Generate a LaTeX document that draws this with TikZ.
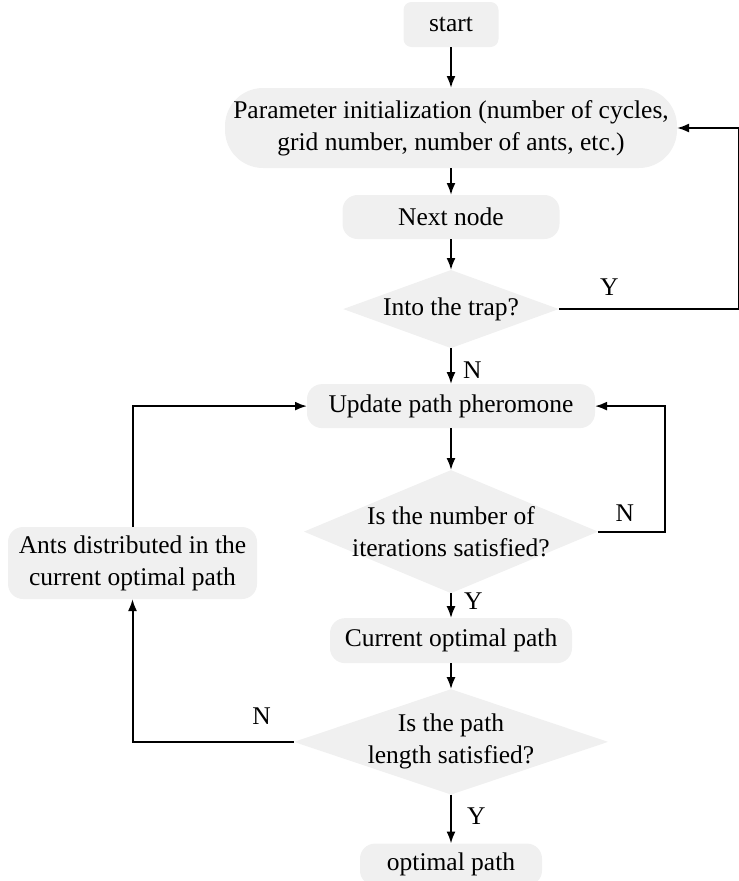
\documentclass[tikz,border=0pt]{standalone}
\usepackage{fontspec}
\setmainfont{Liberation Serif}
\usetikzlibrary{arrows.meta,positioning,shapes.geometric}
\definecolor{boxgray}{HTML}{F0F0F0}

\begin{document}
\begin{tikzpicture}[x=1pt,y=-1pt,>={Latex[length=12pt,width=9pt]},
  txt/.style={font=\fontsize{25.5}{32}\selectfont,align=center},
  boxnode/.style={txt,fill=boxgray,rounded corners=15pt,inner sep=4pt,outer sep=0pt},
  decision/.style={txt,diamond,fill=boxgray,outer sep=0pt},
  flow/.style={->,line width=2pt},
  lbl/.style={font=\fontsize{25.5}{32}\selectfont,inner sep=0pt}]
\useasboundingbox (0,0) rectangle (739,881);
\node[boxnode,rounded corners=8pt,minimum width=95pt,minimum height=45pt] (start) at (451,24.5) {start};
\node[boxnode,rounded corners=38pt,below=41pt of start,minimum width=452pt,minimum height=80pt] (param) {Parameter initialization (number of cycles,\\grid number, number of ants, etc.)};
\node[boxnode,below=27pt of param,minimum width=217pt,minimum height=44pt] (next) {Next node};
\node[decision,below=31pt of next,aspect=2.76,inner sep=2.1pt] (trap) {Into the trap?};
\node[boxnode,below=36pt of trap,minimum width=288pt,minimum height=44pt] (update) {Update path pheromone};
\node[decision,below=42pt of update,aspect=2.39,inner sep=-3.5pt] (iter) {Is the number of\\iterations satisfied?};
\node[boxnode,below=25pt of iter,minimum width=242pt,minimum height=45pt] (current) {Current optimal path};
\node[decision,below=26pt of current,aspect=2.98,inner sep=-2.1pt] (length) {Is the path\\length satisfied?};
\node[boxnode,below=49pt of length,minimum width=182pt,minimum height=42pt] (optimal) {optimal path};
\node[boxnode,minimum width=249pt,minimum height=72pt] (ants) at (132.5,563) {Ants distributed in the\\current optimal path};
\coordinate (rt) at ([xshift=62pt]param.east);
\coordinate (rl) at ([xshift=70pt]update.east);
\draw[flow] (start)--(param); \draw[flow] (param)--(next); \draw[flow] (next)--(trap);
\draw[flow] (trap.east) -| node[lbl,pos=0.14,above=13pt]{Y} (rt) -- (param.east);
\draw[flow] (trap)-- node[lbl,pos=0.6,right=11pt]{N} (update);
\draw[flow] (update)--(iter);
\draw[flow] (iter.east) -| node[lbl,pos=0.2,above=9pt]{N} (rl) -- (update.east);
\draw[flow] (iter)-- node[lbl,pos=0.3,right=12pt]{Y} (current);
\draw[flow] (current)--(length);
\draw[flow] (length.west) -| node[lbl,pos=0.1,above=16pt]{N} (ants.south);
\draw[flow] (ants.north) |- (update.west);
\draw[flow] (length)-- node[lbl,pos=0.45,right=15pt]{Y} (optimal);
\end{tikzpicture}
\end{document}
